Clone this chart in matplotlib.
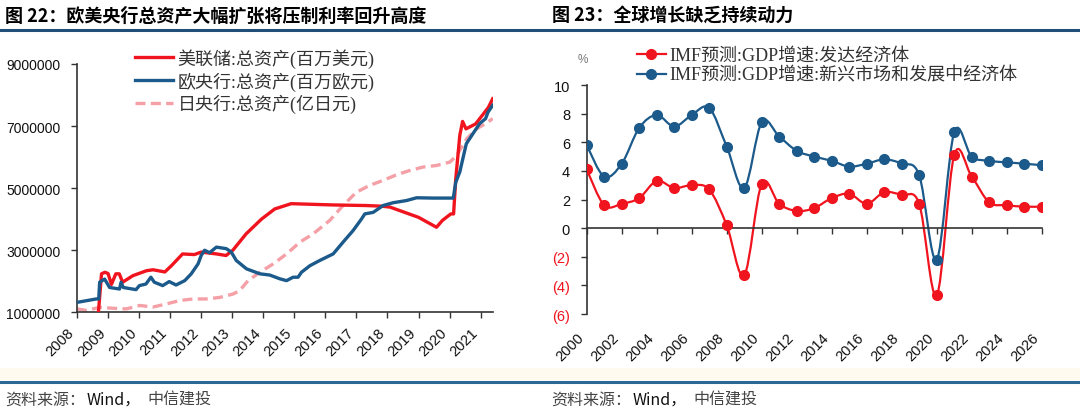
import matplotlib
matplotlib.use("Agg")
import matplotlib.pyplot as plt
import numpy as np
from matplotlib.path import Path
from matplotlib.patches import PathPatch
from matplotlib.lines import Line2D

W, H = 1080, 414

# ---- left chart: central bank total assets (decimal year, value) ----
fed_t = [2008.69, 2008.79, 2008.9, 2009.0, 2009.11, 2009.25, 2009.36, 2009.47, 2009.8,
         2010.24, 2010.45, 2010.83, 2011.04, 2011.4, 2011.78, 2012.0, 2012.5, 2012.8,
         2013.02, 2013.45, 2013.94, 2014.37, 2014.9, 2016.2, 2017.3, 2017.8, 2018.08,
         2019.0, 2019.58, 2019.77, 2020.04, 2020.13, 2020.2, 2020.33, 2020.42,
         2020.53, 2020.84, 2021.05, 2021.25, 2021.39]
fed_v = [1000000, 2240000, 2290000, 2250000, 1900000, 2240000, 2240000, 1970000, 2180000,
         2340000, 2370000, 2300000, 2500000, 2880000, 2860000, 2940000, 2880000, 2830000,
         3000000, 3530000, 4000000, 4330000, 4500000, 4460000, 4440000, 4420000, 4390000,
         4060000, 3740000, 3960000, 4170000, 4170000, 5300000, 6700000, 7150000,
         6910000, 7070000, 7340000, 7600000, 7880000]

ecb_t = [2008.0, 2008.62, 2008.7, 2008.73, 2008.89, 2009.05, 2009.37, 2009.42, 2009.49,
         2009.9, 2010.01, 2010.22, 2010.38, 2010.49, 2010.76, 2010.97, 2011.19, 2011.47,
         2011.68, 2011.9, 2012.0, 2012.11, 2012.27, 2012.49, 2012.81, 2012.97, 2013.13,
         2013.46, 2013.89, 2014.21, 2014.53, 2014.75, 2014.96, 2015.12, 2015.23, 2015.5,
         2015.82, 2016.25, 2016.57, 2016.89, 2017.16, 2017.27, 2017.54, 2017.86, 2018.18,
         2018.61, 2018.94, 2019.47, 2020.12, 2020.2, 2020.33, 2020.44, 2020.54, 2020.75,
         2020.97, 2021.16, 2021.24, 2021.39]
ecb_v = [1320000, 1430000, 1430000, 1970000, 2070000, 1800000, 1750000, 1970000, 1800000,
         1730000, 1860000, 1910000, 2130000, 1970000, 1860000, 1990000, 1880000, 2020000,
         2240000, 2560000, 2830000, 3000000, 2920000, 3100000, 3050000, 2940000, 2670000,
         2400000, 2240000, 2200000, 2080000, 2020000, 2130000, 2130000, 2290000, 2500000,
         2670000, 2880000, 3260000, 3630000, 4000000, 4170000, 4220000, 4440000, 4530000,
         4600000, 4690000, 4680000, 4680000, 5190000, 5520000, 6000000, 6430000, 6750000,
         7080000, 7240000, 7450000, 7670000]

boj_t = [2008.0, 2008.3, 2008.73, 2009.16, 2009.59, 2010.02, 2010.45, 2010.88, 2011.31,
         2011.74, 2012.17, 2012.6, 2013.03, 2013.24, 2013.51, 2013.89, 2014.32, 2014.75,
         2015.18, 2015.61, 2016.14, 2016.57, 2017.0, 2017.43, 2017.86, 2018.29, 2018.72,
         2019.15, 2019.58, 2020.01, 2020.23, 2020.55, 2020.87, 2021.19, 2021.39]
boj_v = [1110000, 1060000, 1160000, 1130000, 1110000, 1220000, 1170000, 1270000, 1380000,
         1430000, 1430000, 1480000, 1590000, 1700000, 2020000, 2290000, 2560000, 2880000,
         3260000, 3530000, 3960000, 4440000, 4870000, 5090000, 5250000, 5430000, 5570000,
         5680000, 5730000, 5840000, 6050000, 6590000, 6910000, 7100000, 7240000]

# ---- right chart: IMF GDP growth (%) ----
years = list(range(2000, 2027))
adv_gdp = [4.1, 1.6, 1.7, 2.1, 3.3, 2.8, 3.0, 2.7, 0.2, -3.3, 3.1, 1.7, 1.2, 1.4,
           2.1, 2.4, 1.7, 2.5, 2.3, 1.7, -4.7, 5.1, 3.6, 1.8, 1.6, 1.5, 1.5]
emd_gdp = [5.8, 3.6, 4.5, 7.0, 7.9, 7.1, 7.9, 8.4, 5.7, 2.8, 7.4, 6.4, 5.4, 5.0,
           4.7, 4.3, 4.5, 4.8, 4.5, 3.7, -2.2, 6.7, 5.0, 4.7, 4.6, 4.5, 4.4]

RED = "#f0141e"
BLUE = "#1b5a8a"
PINK = "#f5a0a7"
NAVY = "#1f4e79"

CJK = ["Noto Sans CJK SC", "DejaVu Sans"]
LEG = ["Liberation Serif", "Noto Sans CJK SC"]
NUM = ["Liberation Sans", "DejaVu Sans"]


def box(x0, y0, x1, y1):
    # pixel box (top-left origin) -> figure fraction rect
    return [x0 / W, 1 - y1 / H, (x1 - x0) / W, (y1 - y0) / H]


def smooth_line(ax, xs, ys, color, lw):
    # Excel-style smoothed line drawn as cubic bezier segments
    pts = np.column_stack([xs, ys]).astype(float)
    n = len(pts)
    verts = [pts[0]]
    codes = [Path.MOVETO]
    for i in range(n - 1):
        p0 = pts[i - 1] if i > 0 else pts[i]
        p1 = pts[i]
        p2 = pts[i + 1]
        p3 = pts[i + 2] if i + 2 < n else pts[i + 1]
        c1 = p1 + (p2 - p0) / 6.0
        c2 = p2 - (p3 - p1) / 6.0
        verts += [c1, c2, p2]
        codes += [Path.CURVE4] * 3
    ax.add_patch(PathPatch(Path(verts, codes), facecolor="none", edgecolor=color,
                           lw=lw, zorder=2, capstyle="round", joinstyle="round"))


fig = plt.figure(figsize=(W / 100, H / 100), dpi=100)

# headers, rules, footers
fig.text(5 / W, 1 - 16 / H, "图 22：欧美央行总资产大幅扩张将压制利率回升高度",
         family=CJK, fontsize=13, fontweight="bold", va="center", ha="left")
fig.text(552 / W, 1 - 16 / H, "图 23：全球增长缺乏持续动力",
         family=CJK, fontsize=13, fontweight="bold", va="center", ha="left")
fig.add_artist(Line2D([0, 1], [1 - 30.5 / H] * 2, color=NAVY, lw=2.2))
fig.add_artist(plt.Rectangle((0, 1 - 381 / H), 1, 12 / H, color="#fffaf0", lw=0, zorder=0))
fig.add_artist(Line2D([0, 1], [1 - 382.5 / H] * 2, color="#2c6894", lw=2.2))
for fx in (5, 551):
    fig.text(fx / W, 1 - 400 / H, "资料来源：", family=CJK, fontsize=11.5,
             style="italic", color="#444444", va="center", ha="left")
    fig.text((fx + 82) / W, 1 - 400 / H, "Wind，", family=CJK, fontsize=11.5,
             color="#111111", va="center", ha="left")
    fig.text((fx + 142) / W, 1 - 400 / H, "中信建投", family=CJK, fontsize=11.5,
             style="italic", color="#444444", va="center", ha="left")

# ---------------- left chart ----------------
ax1 = fig.add_axes(box(77, 65, 492.7, 313.3))
ax1.plot(boj_t, boj_v, color=PINK, lw=2.4, ls=(0, (3, 1.6)), label="日央行:总资产(亿日元)", zorder=2)
ax1.plot(fed_t, fed_v, color=RED, lw=2.4, label="美联储:总资产(百万美元)", zorder=3)
ax1.plot(ecb_t, ecb_v, color=BLUE, lw=2.4, label="欧央行:总资产(百万欧元)", zorder=4)
ax1.set_xlim(2008, 2021.39)
ax1.set_ylim(1000000, 9000000)
ax1.set_yticks([1000000, 3000000, 5000000, 7000000, 9000000])
ax1.set_yticklabels(["1000000", "3000000", "5000000", "7000000", "9000000"])
ax1.set_xticks(range(2008, 2022))
ax1.set_xticklabels([str(y) for y in range(2008, 2022)], rotation=45, ha="right",
                    rotation_mode="default")
for s in ("top", "right"):
    ax1.spines[s].set_visible(False)
for s in ("left", "bottom"):
    ax1.spines[s].set_color("#333333")
    ax1.spines[s].set_linewidth(1.2)
ax1.tick_params(axis="both", direction="out", length=4, width=1, color="#333333",
                labelsize=10.5, labelcolor="#111111")
ax1.tick_params(axis="y", pad=8, labelsize=10)
ax1.tick_params(axis="x", pad=5)
for lab in ax1.get_xticklabels() + ax1.get_yticklabels():
    lab.set_family(NUM)
h, l = ax1.get_legend_handles_labels()
order = [1, 2, 0]
leg1 = ax1.legend([h[i] for i in order], [l[i] for i in order],
                  loc="upper left", bbox_to_anchor=(135 / W, 1 - 49 / H),
                  bbox_transform=fig.transFigure, frameon=False,
                  prop={"family": LEG, "size": 13}, handlelength=2.1,
                  handletextpad=0.25, labelspacing=0.2, borderpad=0, borderaxespad=0)
for t in leg1.get_texts():
    t.set_color("#333333")

# ---------------- right chart ----------------
ax2 = fig.add_axes(box(586.7, 86, 1041.7, 315))
smooth_line(ax2, years, emd_gdp, BLUE, 1.6)
smooth_line(ax2, years, adv_gdp, RED, 1.6)
ax2.plot(years, emd_gdp, ls="none", marker="o", ms=7, color=BLUE, zorder=3)
ax2.plot(years, adv_gdp, ls="none", marker="o", ms=7, color=RED, zorder=4)
ax2.set_xlim(2000, 2026)
ax2.set_ylim(-6, 10)
yt = list(range(-6, 11, 2))
ax2.set_yticks(yt)
ax2.set_yticklabels([f"({-v})" if v < 0 else str(v) for v in yt])
for v, lab in zip(yt, ax2.get_yticklabels()):
    lab.set_family(NUM)
    lab.set_color(RED if v < 0 else "#111111")
ax2.spines["top"].set_visible(False)
ax2.spines["right"].set_visible(False)
ax2.spines["bottom"].set_position(("data", 0))
for s in ("left", "bottom"):
    ax2.spines[s].set_color("#333333")
    ax2.spines[s].set_linewidth(1.2)
xt = list(range(2000, 2027, 2))
ax2.set_xticks(xt)
ax2.set_xticklabels([])
ax2.tick_params(axis="both", direction="out", length=4, width=1, color="#333333",
                labelsize=10.5)
ax2.tick_params(axis="y", pad=8)
sec = ax2.secondary_xaxis(-0.07)
sec.set_xticks(xt)
sec.set_xticklabels([str(y) for y in xt], rotation=45, ha="right")
sec.spines["bottom"].set_visible(False)
sec.tick_params(length=0, labelsize=10.5, labelcolor="#111111", pad=0)
for lab in sec.get_xticklabels():
    lab.set_family(NUM)
fig.text(583 / W, 1 - 60 / H, "%", family=NUM, fontsize=8.5, color="#777777",
         ha="center", va="center")
handles = [Line2D([], [], color=RED, lw=1.6, marker="o", ms=7),
           Line2D([], [], color=BLUE, lw=1.6, marker="o", ms=7)]
leg2 = ax2.legend(handles, ["IMF预测:GDP增速:发达经济体", "IMF预测:GDP增速:新兴市场和发展中经济体"],
                  loc="upper left", bbox_to_anchor=(637 / W, 1 - 48 / H),
                  bbox_transform=fig.transFigure, frameon=False,
                  prop={"family": LEG, "size": 13}, handlelength=1.6,
                  handletextpad=0.2, labelspacing=0.15, borderpad=0, borderaxespad=0)
for t in leg2.get_texts():
    t.set_color("#333333")

fig.savefig("out.png", dpi=100)
